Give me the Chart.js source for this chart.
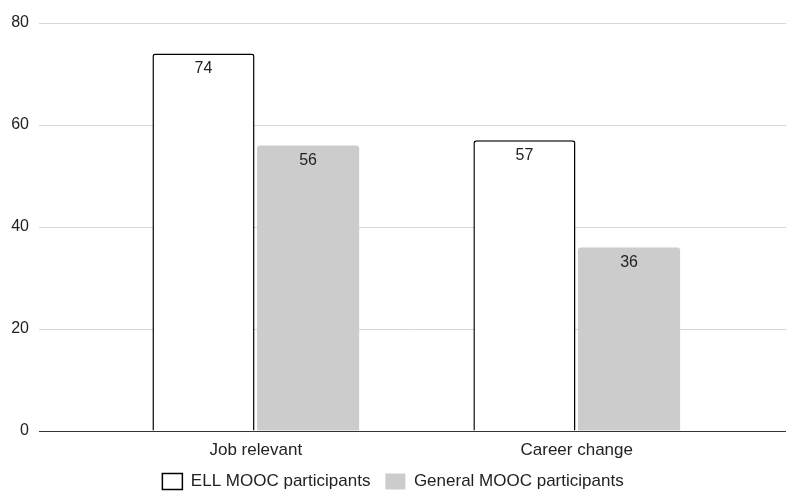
<!DOCTYPE html>
<html>
<head>
<meta charset="utf-8">
<script src="https://cdn.jsdelivr.net/npm/chart.js@4.4.1/dist/chart.umd.min.js"></script>
<style>
  html, body { margin: 0; padding: 0; background: #fff; }
  #wrap { width: 786px; height: 492px; }
</style>
</head>
<body>
<div id="wrap"><canvas id="barchart"></canvas></div>
<script>
// Chart values
const categories = ['Job relevant', 'Career change'];
const seriesNames = ['ELL MOOC participants', 'General MOOC participants'];
const ellValues = [74, 57];
const generalValues = [56, 36];
const yTicks = [0, 20, 40, 60, 80];

Chart.defaults.font.family = '"Liberation Sans", Arial, Helvetica, sans-serif';
Chart.defaults.font.size = 16;
Chart.defaults.color = '#222';

// value labels drawn inside the top of each bar
const valueLabels = {
  id: 'valueLabels',
  afterDatasetsDraw(chart) {
    const ctx = chart.ctx;
    ctx.save();
    ctx.font = '16px "Liberation Sans", Arial, sans-serif';
    ctx.fillStyle = '#222';
    ctx.textAlign = 'center';
    ctx.textBaseline = 'middle';
    chart.data.datasets.forEach((ds, i) => {
      chart.getDatasetMeta(i).data.forEach((bar, j) => {
        ctx.fillText(String(ds.data[j].y), bar.x, bar.y + 15);
      });
    });
    ctx.restore();
  }
};

const toPoints = (vals) => vals.map((v, i) => ({ x: i, y: v }));

const data = {
  datasets: [{
    label: seriesNames[0],
    data: toPoints(ellValues),
    backgroundColor: '#ffffff',
    borderColor: '#000000',
    borderWidth: 1.5,
    borderRadius: 3,
    borderSkipped: 'bottom'
  }, {
    label: seriesNames[1],
    data: toPoints(generalValues),
    backgroundColor: '#cccccc',
    borderWidth: 0,
    borderRadius: 3,
    borderSkipped: 'bottom'
  }]
};

const options = {
  responsive: true,
  maintainAspectRatio: false,
  animation: false,
  devicePixelRatio: 1,
  categoryPercentage: 0.652,
  barPercentage: 0.976,
  layout: { padding: { top: 23, left: 0, right: 0, bottom: -8 } },
  scales: {
    x: {
      type: 'linear',
      offset: false,
      min: -0.6755,
      max: 1.652,
      grid: { display: false, drawTicks: false, offset: false },
      border: { display: true, color: '#333', width: 1 },
      afterBuildTicks: (scale) => { scale.ticks = categories.map((c, i) => ({ value: i })); },
      afterFit: (scale) => { scale.height = 27; },
      ticks: {
        padding: 9,
        color: '#222',
        font: { size: 17 },
        callback: (v) => categories[v]
      }
    },
    y: {
      min: 0,
      max: 80,
      grid: { color: '#d6d6d6', drawTicks: false },
      border: { display: false },
      afterBuildTicks: (scale) => { scale.ticks = yTicks.map(v => ({ value: v })); },
      afterFit: (scale) => { scale.width = 39; },
      ticks: { padding: 10, color: '#222' }
    }
  },
  plugins: {
    legend: {
      position: 'bottom',
      labels: {
        boxWidth: 20,
        boxHeight: 16,
        padding: 15,
        color: '#222',
        font: { size: 17 }
      }
    },
    tooltip: { enabled: false }
  }
};

new Chart(document.getElementById('barchart'), {
  type: 'bar',
  data: data,
  options: options,
  plugins: [valueLabels]
});
</script>
</body>
</html>
